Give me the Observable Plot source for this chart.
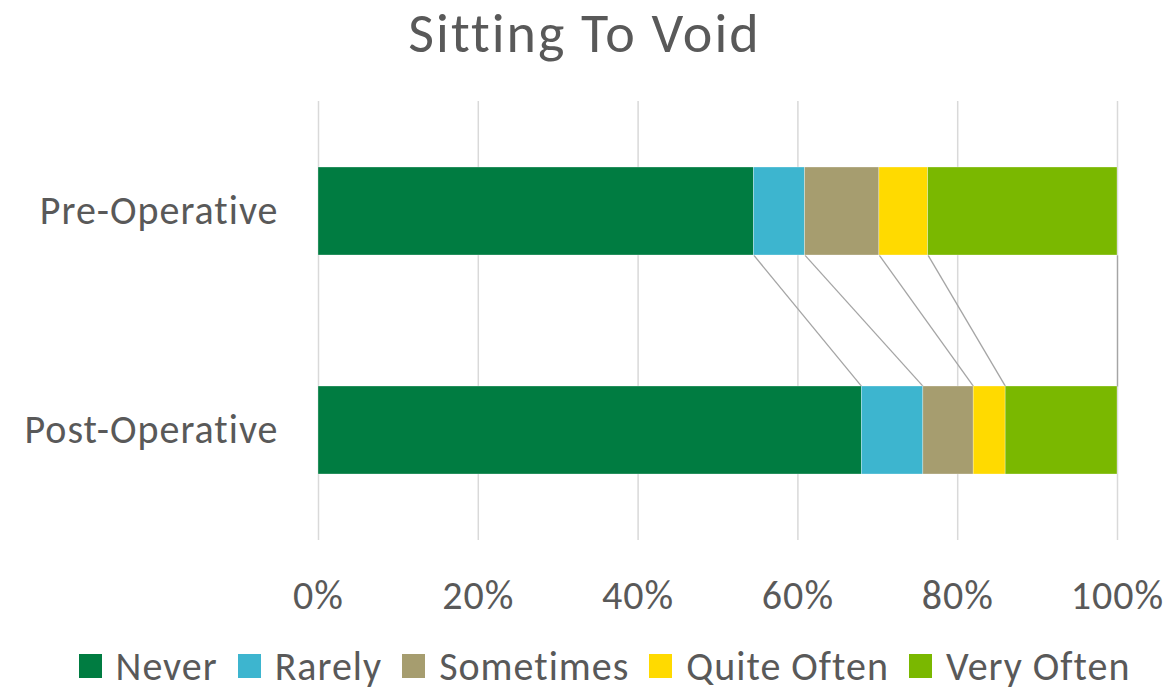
<!DOCTYPE html>
<html>
<head>
<meta charset="utf-8">
<script src="https://cdn.jsdelivr.net/npm/d3@7"></script>
<script src="https://cdn.jsdelivr.net/npm/@observablehq/plot@0.6"></script>
<style>
  html, body { margin: 0; padding: 0; background: #fff; }
  body { width: 1169px; height: 690px; overflow: hidden; font-family: Carlito, Calibri, Lato, sans-serif; color: #595959; }
  #title { height: 67px; line-height: 67px; text-align: center; font-size: 56px; letter-spacing: 2px; white-space: nowrap; }
  #legend { height: 50px; box-sizing: border-box; padding-left: 40px; display: flex; justify-content: center; align-items: flex-end; font-size: 40px; letter-spacing: 1px; gap: 20px; white-space: nowrap; }
  .item { display: flex; align-items: center; gap: 14px; height: 48px; }
  .sw { width: 23px; height: 24px; display: inline-block; }
</style>
</head>
<body>
<div id="title">Sitting To Void</div>
<div id="chart"></div>
<div id="legend"></div>
<script>
const periods = ["Pre-Operative", "Post-Operative"];
const responses = ["Never", "Rarely", "Sometimes", "Quite Often", "Very Often"];
const colors = ["#007C41", "#3DB5CF", "#A69D6F", "#FFDA00", "#7AB800"];
const preValues = [54.5, 6.4, 9.3, 6.1, 23.7];
const postValues = [68.0, 7.7, 6.3, 4.0, 14.0];
const xTicks = [0, 20, 40, 60, 80, 100];

const rows = [];
responses.forEach((r, i) => {
  rows.push({period: periods[0], response: r, value: preValues[i]});
  rows.push({period: periods[1], response: r, value: postValues[i]});
});
const cumPre = d3.cumsum(preValues);
const cumPost = d3.cumsum(postValues);
const links = responses.map((r, i) => ({response: r, x1: cumPre[i], x2: cumPost[i]}));

const W = 1169, H = 573, mTop = 34, mBottom = 100, mLeft = 318, mRight = 52;
const yOpts = {type: "band", domain: periods, paddingInner: 0.6, paddingOuter: 0.3};
const half = Plot.scale({y: {...yOpts, range: [mTop, H - mBottom]}}).bandwidth / 2;

// series line from the bottom edge of the upper bar to the top edge of the lower bar
function edgeCurve(context) {
  let n = 0;
  return {
    lineStart() { n = 0; },
    lineEnd() {},
    areaStart() {}, areaEnd() {},
    point(x, y) {
      if (n++ === 0) context.moveTo(x, y + half);
      else context.lineTo(x, y - half);
    }
  };
}

const chart = Plot.plot({
  width: W, height: H,
  marginTop: mTop, marginBottom: mBottom, marginLeft: mLeft, marginRight: mRight,
  style: {fontFamily: "Carlito, Calibri, Lato, sans-serif", fontSize: "40px", letterSpacing: "1px", color: "#595959", background: "#fff", overflow: "visible"},
  x: {domain: [0, 100], ticks: xTicks, tickFormat: d => d + "%", label: null},
  y: {...yOpts, label: null},
  color: {domain: responses, range: colors},
  marks: [
    Plot.gridX(xTicks, {stroke: "#d9d9d9", strokeOpacity: 1, strokeWidth: 1.5}),
    Plot.axisX({ticks: xTicks, tickFormat: d => d + "%", tickSize: 0, tickPadding: 40, fontSize: 40, fill: "#595959", label: null}),
    Plot.axisY({tickSize: 0, tickPadding: 40, fontSize: 40, fill: "#595959", label: null}),
    Plot.link(links, {x1: "x1", x2: "x2", y1: () => periods[0], y2: () => periods[1], stroke: "#a5a5a5", strokeWidth: 1.3, curve: edgeCurve}),
    Plot.barX(rows, {y: "period", x: "value", fill: "response", order: responses, stroke: "#fff", strokeWidth: 0.6, strokeOpacity: 0.5})
  ]
});
document.getElementById("chart").appendChild(chart);

const legend = document.getElementById("legend");
responses.forEach((r, i) => {
  const it = document.createElement("div");
  it.className = "item";
  it.innerHTML = `<span class="sw" style="background:${colors[i]}"></span><span>${r}</span>`;
  legend.appendChild(it);
});
</script>
</body>
</html>
